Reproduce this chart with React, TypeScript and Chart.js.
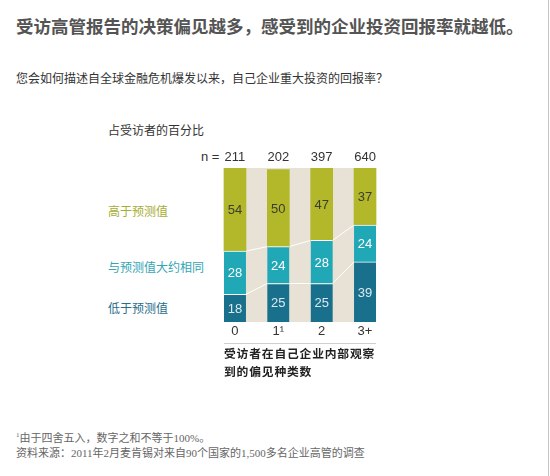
import React, { useEffect, useRef } from "react";
import { Chart, registerables } from "chart.js";

Chart.register(...registerables);

const categories = ["0", "1¹", "2", "3+"];
const respondents = [211, 202, 397, 640];
const lowerValues = [18, 25, 25, 39];
const sameValues = [28, 24, 28, 24];
const higherValues = [54, 50, 47, 37];

const seriesNames = ["低于预测值", "与预测值大约相同", "高于预测值"];
const seriesColors = ["#19708d", "#21a8b7", "#b2b82a"];
const labelColors = ["#dbe9ee", "#ffffff", "#3c3c30"];

const numFont = "'Liberation Sans', Arial, sans-serif";
const cjkFont = "'Noto Sans CJK SC', sans-serif";
const serifFont = "'Liberation Serif', 'Noto Sans CJK SC', serif";

// beige band, connector lines, value labels and the base line
const decorPlugin = {
  id: "decor",
  beforeDatasetsDraw(chart: any) {
    const ctx = chart.ctx;
    const y = chart.scales.y;
    const bars = chart.getDatasetMeta(0).data;
    const first = bars[0];
    const last = bars[bars.length - 1];
    const left = first.x - first.width / 2;
    const right = last.x + last.width / 2;
    const top = y.getPixelForValue(100);
    const bottom = y.getPixelForValue(0);
    ctx.save();
    ctx.fillStyle = "#e7e2d5";
    ctx.fillRect(left, top, right - left, bottom - top);

    // white lines joining the segment boundaries
    ctx.strokeStyle = "#ffffff";
    ctx.lineWidth = 1;
    const stacks = [lowerValues, sameValues];
    let cum = categories.map(() => 0);
    stacks.forEach((vals) => {
      cum = cum.map((c, i) => c + vals[i]);
      for (let i = 0; i < bars.length - 1; i++) {
        const a = bars[i];
        const b = bars[i + 1];
        ctx.beginPath();
        ctx.moveTo(a.x + a.width / 2, y.getPixelForValue(cum[i]));
        ctx.lineTo(b.x - b.width / 2, y.getPixelForValue(cum[i + 1]));
        ctx.stroke();
      }
    });

    // line under the tick labels
    ctx.strokeStyle = "#cfcfcf";
    ctx.beginPath();
    ctx.moveTo(left, bottom + 21.5);
    ctx.lineTo(right, bottom + 21.5);
    ctx.stroke();
    ctx.restore();
  },
  afterDatasetsDraw(chart: any) {
    const ctx = chart.ctx;
    ctx.save();
    ctx.font = `13px ${numFont}`;
    ctx.textAlign = "center";
    ctx.textBaseline = "middle";
    chart.data.datasets.forEach((ds: any, di: number) => {
      chart.getDatasetMeta(di).data.forEach((bar: any, i: number) => {
        ctx.fillStyle = labelColors[di];
        ctx.fillText(String(ds.data[i]), bar.x, (bar.y + bar.base) / 2 + 1);
      });
    });
    ctx.restore();
  },
};

function StackChart() {
  const canvasRef = useRef<HTMLCanvasElement | null>(null);

  useEffect(() => {
    if (!canvasRef.current) return;
    const values = [lowerValues, sameValues, higherValues];
    const chart = new Chart(canvasRef.current, {
      type: "bar",
      data: {
        labels: categories,
        datasets: values.map((v, i) => ({
          label: seriesNames[i],
          data: v,
          backgroundColor: seriesColors[i],
          borderColor: "#ffffff",
          borderWidth: i < 2 ? { top: 1, right: 0, bottom: 0, left: 0 } : 0,
          borderSkipped: false,
          barThickness: 22,
          xAxisID: "x",
        })),
      },
      options: {
        animation: false,
        responsive: false,
        maintainAspectRatio: false,
        layout: { padding: { left: 23.3, right: 23.3, top: 4.4, bottom: 5.4 } },
        plugins: { legend: { display: false }, tooltip: { enabled: false } },
        scales: {
          x: {
            stacked: true,
            position: "bottom",
            grid: { display: false, drawTicks: false },
            border: { display: false },
            ticks: { padding: 2, color: "#333", font: { family: numFont, size: 13 } },
            afterFit: (s: any) => { s.height = 17.6; },
          },
          xTop: {
            type: "category",
            position: "top",
            labels: respondents.map(String),
            grid: { display: false, drawTicks: false },
            border: { display: false },
            ticks: { padding: 3, color: "#333", font: { family: numFont, size: 13 } },
            afterFit: (s: any) => { s.height = 18.6; },
          },
          y: { stacked: true, min: 0, max: 100, display: false },
        },
      } as any,
      plugins: [decorPlugin],
    });
    return () => chart.destroy();
  }, []);

  return (
    <canvas
      ref={canvasRef}
      width={220}
      height={200}
      style={{ position: "absolute", left: 190, top: 145, width: 220, height: 200 }}
    />
  );
}

const abs = (left: number, top: number, extra: React.CSSProperties = {}): React.CSSProperties => ({
  position: "absolute",
  left,
  top,
  whiteSpace: "nowrap",
  ...extra,
});

const axisTitle: React.CSSProperties = {
  fontFamily: cjkFont,
  fontWeight: 700,
  fontSize: 11.8,
  letterSpacing: 0.8,
  color: "#222",
  lineHeight: "17px",
};

export default function App() {
  return (
    <div style={{ position: "absolute", left: 0, top: 0, width: 550, height: 476, background: "#fff", overflow: "hidden" }}>
      <div style={abs(16, 14, { fontFamily: cjkFont, fontWeight: 700, fontSize: 17.5, color: "#545454", lineHeight: "24px" })}>
        受访高管报告的决策偏见越多，感受到的企业投资回报率就越低。
      </div>
      <div style={abs(16, 71, { fontFamily: serifFont, fontSize: 12, color: "#333", lineHeight: "16px" })}>
        您会如何描述自全球金融危机爆发以来，自己企业重大投资的回报率？
      </div>
      <div style={abs(108, 122, { fontFamily: cjkFont, fontSize: 12, color: "#333", lineHeight: "16px" })}>
        占受访者的百分比
      </div>
      <div style={abs(201, 149, { fontFamily: numFont, fontSize: 13, color: "#333", lineHeight: "16px" })}>n =</div>
      <div style={abs(108, 203, { fontFamily: cjkFont, fontSize: 12, color: "#a6ad33", lineHeight: "16px" })}>
        高于预测值
      </div>
      <div style={abs(108, 259, { fontFamily: cjkFont, fontSize: 12, color: "#35a5b4", lineHeight: "16px" })}>
        与预测值大约相同
      </div>
      <div style={abs(108, 300, { fontFamily: cjkFont, fontSize: 12, color: "#286e8b", lineHeight: "16px" })}>
        低于预测值
      </div>
      <StackChart />
      <div style={abs(224, 344, axisTitle)}>受访者在自己企业内部观察</div>
      <div style={abs(224, 361.5, axisTitle)}>到的偏见种类数</div>
      <div style={abs(16, 427, { fontFamily: serifFont, fontSize: 11, color: "#666", lineHeight: "16px" })}>
        <sup style={{ fontSize: 7 }}>1</sup>由于四舍五入，数字之和不等于100%。
      </div>
      <div style={abs(16, 445, { fontFamily: serifFont, fontSize: 11, color: "#666", lineHeight: "16px" })}>
        资料来源：2011年2月麦肯锡对来自90个国家的1,500多名企业高管的调查
      </div>
      <div style={{ position: "absolute", left: 548, top: 0, width: 1, height: 476, background: "#c4c4c4" }} />
    </div>
  );
}
